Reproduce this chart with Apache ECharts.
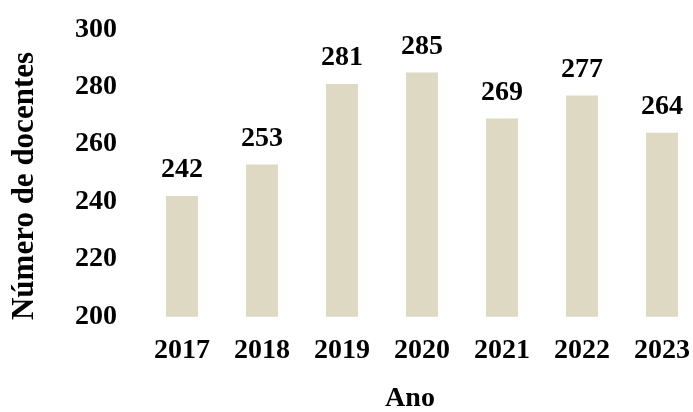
<!DOCTYPE html>
<html>
<head>
<meta charset="utf-8">
<script src="https://cdn.jsdelivr.net/npm/echarts@6/dist/echarts.min.js"></script>
<style>html,body{margin:0;padding:0;background:#fff}#c{width:693px;height:412px}</style>
</head>
<body>
<div id="c"></div>
<script>
const categories = ['2017', '2018', '2019', '2020', '2021', '2022', '2023'];
const docentes = [242, 253, 281, 285, 269, 277, 264];
const yTicks = [200, 220, 240, 260, 280, 300];

const font = '"Liberation Serif", "Times New Roman", serif';
const chart = echarts.init(document.getElementById('c'));
chart.setOption({
  animation: false,
  grid: { left: 142, right: -9, top: 29.3, bottom: 95.3, containLabel: false, outerBoundsMode: 'none' },
  xAxis: {
    type: 'category',
    data: categories,
    name: 'Ano',
    nameLocation: 'middle',
    nameGap: 68,
    nameTextStyle: { fontFamily: font, fontWeight: 'bold', fontSize: 28, color: '#000', padding: [0, 24, 0, 0] },
    axisLine: { show: false },
    axisTick: { show: false },
    axisLabel: { fontFamily: font, fontWeight: 'bold', fontSize: 28, color: '#000', margin: 20 }
  },
  yAxis: {
    type: 'value',
    min: yTicks[0],
    max: yTicks[yTicks.length - 1],
    interval: 20,
    name: 'Número de docentes',
    nameLocation: 'middle',
    nameGap: 102,
    nameTextStyle: { fontFamily: font, fontWeight: 'bold', fontSize: 31, color: '#000', padding: [0, 26, 0, 0] },
    splitLine: { show: false },
    axisLine: { show: false },
    axisTick: { show: false },
    axisLabel: { fontFamily: font, fontWeight: 'bold', fontSize: 28, color: '#000', margin: 25 }
  },
  series: [{
    type: 'bar',
    data: docentes,
    barWidth: '40%',
    itemStyle: { color: '#DDD9C3' },
    label: { show: true, position: 'top', distance: 12, fontFamily: font, fontWeight: 'bold', fontSize: 28, color: '#000' }
  }]
});
</script>
</body>
</html>
